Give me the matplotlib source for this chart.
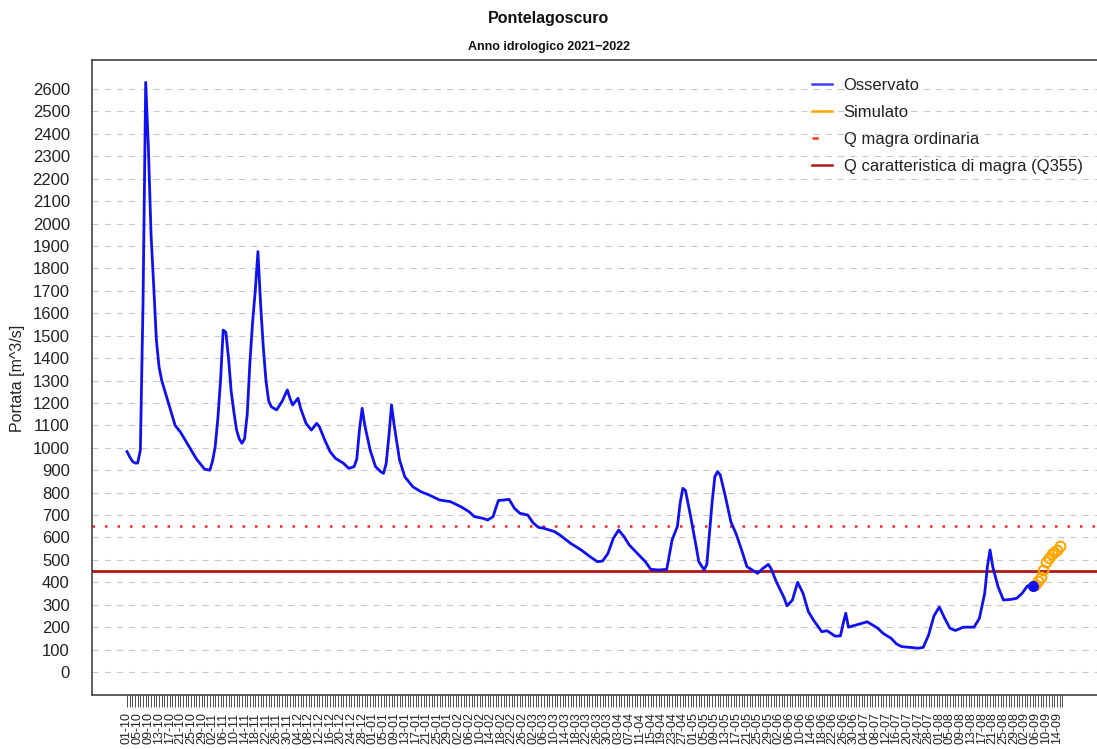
import matplotlib
matplotlib.use('agg')
import matplotlib.pyplot as plt
import numpy as np
import pandas as pd

plt.rcParams['font.family'] = ['Liberation Sans', 'DejaVu Sans']

# hydrological year starts 01-10-2021, x = days from that date
START = '2021-10-01'

obs_day = [0, 1, 2, 3, 4, 5, 6, 7, 8, 9, 10, 11, 12, 13, 15, 17, 18, 20, 22, 24,
           26, 28, 29, 31, 32, 33, 34, 35, 36, 37, 38, 39, 40, 41, 42, 43, 44, 45,
           46, 47, 48, 49, 50, 51, 52, 53, 54, 56, 58, 60, 61, 62, 64, 65, 67, 69,
           71, 72, 74, 76, 78, 81, 83, 85, 86, 87, 88, 89, 91, 93, 95, 96, 97, 98,
           99, 100, 102, 104, 107, 110, 113, 117, 121, 125, 128, 130, 133, 135,
           137, 138, 139, 141, 143, 145, 147, 150, 152, 154, 156, 160, 162, 166,
           170, 173, 176, 178, 180, 182, 184, 186, 188, 191, 194, 196, 199, 202,
           204, 206, 207, 208, 209, 211, 213, 214, 216, 217, 218, 219, 220, 221,
           222, 224, 226, 228, 230, 232, 234, 236, 238, 240, 241, 243, 246, 247,
           249, 251, 253, 255, 257, 260, 262, 265, 267, 268, 269, 270, 273, 275,
           277, 278, 281, 283, 286, 288, 290, 293, 296, 298, 300, 302, 304, 306,
           308, 310, 313, 317, 319, 321, 322, 323, 324, 326, 328, 331, 333, 335,
           337, 339]
obs_q = [983, 960, 940, 932, 932, 990, 1650, 2630, 2340, 1950, 1720, 1480, 1360,
         1300, 1220, 1140, 1100, 1070, 1030, 990, 950, 920, 905, 900, 940, 1005,
         1130, 1300, 1525, 1515, 1400, 1250, 1160, 1080, 1040, 1020, 1040, 1150,
         1380, 1560, 1700, 1875, 1640, 1450, 1300, 1210, 1183, 1169, 1206, 1258,
         1220, 1191, 1221, 1175, 1109, 1079, 1109, 1094, 1035, 983, 953, 931, 908,
         916, 950, 1080, 1176, 1100, 990, 916, 893, 886, 930, 1050, 1191, 1100,
         946, 870, 826, 804, 790, 767, 760, 737, 715, 693, 686, 678, 693, 730, 765,
         767, 770, 730, 708, 700, 665, 645, 641, 626, 611, 574, 544, 517, 492, 495,
         529, 596, 633, 604, 566, 529, 492, 458, 455, 458, 589, 650, 752, 819, 810,
         690, 560, 492, 455, 480, 620, 760, 871, 893, 880, 780, 670, 615, 545, 470,
         455, 440, 462, 480, 462, 403, 329, 295, 320, 400, 351, 269, 230, 180, 184,
         160, 161, 215, 262, 200, 210, 217, 224, 217, 195, 172, 150, 125, 113, 110,
         106, 110, 165, 250, 290, 240, 195, 185, 200, 200, 239, 351, 470, 544, 470,
         380, 321, 324, 329, 351, 384, 385]

sim_day = [340, 341, 342, 343, 344, 345, 346, 347, 348, 349]
sim_q = [388, 405, 425, 455, 490, 510, 525, 535, 545, 560]

q_magra_ord = 650
q355 = 450

n_ticks = 351
dates = pd.date_range(START, periods=n_ticks, freq='D')
tick_labels = [d.strftime('%d-%m') for d in dates]

fig = plt.figure(figsize=(10.97, 7.49), dpi=100)
ax = fig.add_axes([92/1097, 1 - 695/749, (1140 - 92)/1097, (695 - 60)/749])

for v in range(0, 2700, 100):
    ax.axhline(v, color='#c8c8c8', lw=0.8, dashes=(5.5, 5.5), zorder=1)

ax.axhline(q_magra_ord, color='#ff2020', lw=1.8, dashes=(1, 4), zorder=2)
ax.axhline(q355, color='#b01818', lw=2.0, zorder=2)

ax.plot(obs_day, obs_q, color='#1010f0', lw=2.0, zorder=3, solid_joinstyle='round')
ax.plot(sim_day, sim_q, ls='none', marker='o', ms=7, mfc='none', mec='orange',
        mew=1.5, zorder=4)
ax.plot(obs_day[-1], obs_q[-1], marker='o', ms=7, color='#1010f0', zorder=5)

ax.set_xlim((92 - 127)/2.672, (1140 - 127)/2.672)
ax.set_ylim(-102.6, 2729.6)

ax.set_yticks(range(0, 2700, 100))
ax.tick_params(axis='y', length=0, pad=16, labelsize=12, labelcolor='#222222')
ax.set_xticks(np.arange(n_ticks))
ax.set_xticklabels([lab if i % 4 == 0 else '' for i, lab in enumerate(tick_labels)],
                   rotation=90, fontsize=9, color='#222222')
ax.tick_params(axis='x', length=8.6, width=0.6, color='#333333', pad=4)

for s in ax.spines.values():
    s.set_color('#333333')
    s.set_linewidth(1.1)

# legend
handles = [
    plt.Line2D([], [], color='#4040ff', lw=1.8),
    plt.Line2D([], [], color='orange', lw=1.8),
    plt.Line2D([], [], color='#ff3030', lw=1.8, dashes=(2.5, 10)),
    plt.Line2D([], [], color='#b01818', lw=1.8),
]
labels = ['Osservato', 'Simulato', 'Q magra ordinaria', 'Q caratteristica di magra (Q355)']
fig.legend(handles, labels, loc='upper left', bbox_to_anchor=(812/1097, 1 - 78/749),
           frameon=False, fontsize=12, handlelength=1.2, handletextpad=0.7,
           labelspacing=0.72, borderpad=0, borderaxespad=0, labelcolor='#222222')

fig.text(0.5, 1 - 18/749, 'Pontelagoscuro', ha='center', va='center',
         fontsize=11.5, fontweight='bold', color='#111111')
fig.text(0.5, 1 - 47/749, 'Anno idrologico 2021\u22122022', ha='center', va='center',
         fontsize=9, fontweight='bold', color='#111111')
fig.text(18/1097, 1 - 378/749, 'Portata [m^3/s]', rotation=90, ha='center', va='center',
         fontsize=11.5, color='#222222')

fig.savefig('out.png', dpi=100)
